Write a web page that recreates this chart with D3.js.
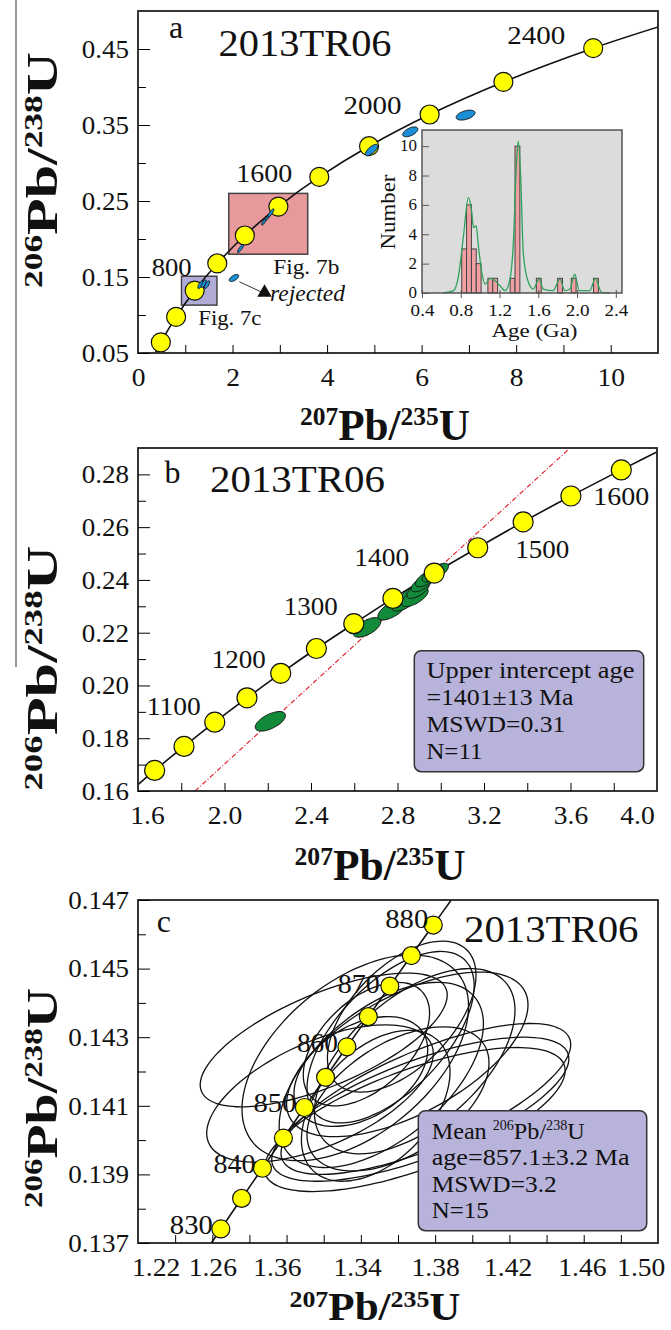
<!DOCTYPE html>
<html>
<head lang="en">
  <meta charset="UTF-8">
  <title>2013TR06 concordia diagrams</title>
  <script src="https://cdn.jsdelivr.net/npm/d3@7"></script>
</head>
<style>
  body { margin: 0; background: #fff; }
  svg text { font-family: "Liberation Serif", "Times New Roman", serif; fill: #111; }
</style>
<body>
<svg id="fig" width="671" height="1330"></svg>
<script>
  // ---------------- panel a : whole concordia ----------------
  var agesA = [400, 600, 800, 1000, 1200, 1400, 1600, 1800, 2000, 2200, 2400];
  var x75A = [0.483, 0.806, 1.199, 1.677, 2.260, 2.970, 3.835, 4.887, 6.169, 7.729, 9.629];
  var y68A = [0.0640, 0.0975, 0.1321, 0.1678, 0.2046, 0.2426, 0.2817, 0.3221, 0.3638, 0.4067, 0.4511];
  var labelAgesA = [800, 1600, 2000, 2400];
  var traceXA = [0.344].concat(x75A, [11.323]);
  var traceYA = [0.0476].concat(y68A, [0.4852]);

  var blueCx = [4.94, 5.76, 6.93, 2.03, 2.17, 2.67, 2.75, 2.81, 1.32, 1.39, 1.46];
  var blueCy = [0.317, 0.341, 0.363, 0.1487, 0.1875, 0.2232, 0.229, 0.2342, 0.1398, 0.1411, 0.1400];
  var blueEx = [0.13, 0.16, 0.20, 0.10, 0.065, 0.055, 0.055, 0.065, 0.055, 0.055, 0.055];
  var blueEy = [0.0075, 0.0065, 0.0065, 0.0047, 0.0055, 0.005, 0.0045, 0.0055, 0.005, 0.005, 0.005];
  var blueRho = [0.7, 0.55, 0.45, 0.6, 0.85, 0.85, 0.85, 0.85, 0.7, 0.7, 0.7];

  var zoomBoxB = { x0: 1.92, x1: 3.59, y0: 0.180, y1: 0.260 };
  var zoomBoxC = { x0: 0.92, x1: 1.67, y0: 0.113, y1: 0.151 };
  var rejectedArrow = [[2.143, 0.1438], [2.676, 0.1283]];

  // inset histogram (ages in Ga)
  var binStart = [0.81, 0.86, 0.91, 0.96, 1.08, 1.13, 1.31, 1.36, 1.58, 1.80, 1.94, 2.17];
  var binCount = [3, 6, 3, 2, 1, 1, 1, 10, 1, 1, 1, 1];
  var binWidth = 0.05;
  var kdeAge = [0.62, 0.725, 0.777, 0.828, 0.879, 0.914, 0.931, 0.959, 0.982, 1.017, 1.051, 1.103, 1.154,
                1.205, 1.257, 1.308, 1.343, 1.377, 1.394, 1.418, 1.445, 1.487, 1.548, 1.610, 1.651, 1.754,
                1.823, 1.874, 1.926, 1.977, 2.022, 2.131, 2.19, 2.252, 2.337];
  var kdeDensity = [0, 0.16, 1.17, 3.89, 6.49, 5.47, 4.45, 4.57, 3.21, 1.40, 0.61, 0.99, 0.83,
                    0.49, 0.16, 0.95, 3.43, 9.1, 10.34, 7.96, 2.76, 0.95, 0.27, 0.95, 0.27, 0.16,
                    0.95, 0.16, 0.27, 1.29, 0.16, 0.16, 0.99, 0.05, 0];

  // ---------------- panel b : 1000-1600 Ma ----------------
  var agesB = [1000, 1050, 1100, 1150, 1200, 1250, 1300, 1350, 1400, 1450, 1500, 1550, 1600];
  var x75B = [1.677, 1.813, 1.955, 2.104, 2.260, 2.425, 2.598, 2.779, 2.970, 3.171, 3.381, 3.602, 3.835];
  var y68B = [0.1678, 0.1769, 0.1861, 0.1953, 0.2046, 0.2140, 0.2234, 0.2330, 0.2426, 0.2522, 0.2620, 0.2718, 0.2817];
  var labelAgesB = [1100, 1200, 1300, 1400, 1500, 1600];
  var traceXB = [1.549].concat(x75B, [4.078]);
  var traceYB = [0.1588].concat(y68B, [0.2917]);
  var discordiaX = [1.864, 3.59];
  var discordiaY = [0.16, 0.2894];

  var greenCx = [2.212, 2.659, 2.775, 2.835, 2.864, 2.880, 2.895, 2.915, 2.935, 2.966, 2.984];
  var greenCy = [0.1864, 0.2220, 0.2287, 0.2318, 0.2344, 0.2335, 0.2362, 0.2387, 0.2406, 0.2424, 0.2431];
  var greenEx = [0.070, 0.064, 0.066, 0.062, 0.056, 0.062, 0.052, 0.052, 0.052, 0.052, 0.052];
  var greenEy = [0.0037, 0.0037, 0.0039, 0.0036, 0.0034, 0.0036, 0.0032, 0.0032, 0.0032, 0.0032, 0.0032];
  var greenRho = [0.6, 0.6, 0.65, 0.65, 0.65, 0.65, 0.65, 0.65, 0.65, 0.65, 0.65];
  var resultB = ['Upper intercept age', '=1401\u00b113 Ma', 'MSWD=0.31', 'N=11'];

  // ---------------- panel c : 830-880 Ma ----------------
  var agesC = [830, 835, 840, 845, 850, 855, 860, 865, 870, 875, 880];
  var x75C = [1.2646, 1.2758, 1.2870, 1.2983, 1.3096, 1.3210, 1.3325, 1.3440, 1.3556, 1.3672, 1.3790];
  var y68C = [0.13741, 0.13830, 0.13918, 0.14006, 0.14095, 0.14183, 0.14272, 0.14360, 0.14449, 0.14538, 0.14627];
  var labelAgesC = [830, 840, 850, 860, 870, 880];
  var traceXC = [1.2536].concat(x75C, [1.3908]);
  var traceYC = [0.13653].concat(y68C, [0.14716]);

  var spotCx = [1.320, 1.318, 1.375, 1.372, 1.369, 1.365, 1.337, 1.343, 1.340, 1.351, 1.360, 1.369, 1.356, 1.348, 1.362];
  var spotCy = [0.14292, 0.14136, 0.1412, 0.1409, 0.1406, 0.1425, 0.1424, 0.1428, 0.1420, 0.1419, 0.1412, 0.1423, 0.1430, 0.1410, 0.1436];
  var spotEx = [0.0665, 0.061, 0.078, 0.080, 0.081, 0.065, 0.061, 0.034, 0.036, 0.055, 0.049, 0.054, 0.045, 0.040, 0.040];
  var spotEy = [0.00195, 0.0020, 0.0022, 0.0021, 0.0021, 0.0024, 0.0030, 0.0018, 0.0016, 0.0027, 0.0021, 0.0027, 0.0025, 0.0022, 0.0022];
  var spotRho = [0.67, 0.58, 0.72, 0.70, 0.68, 0.60, 0.50, 0.50, 0.40, 0.55, 0.50, 0.55, 0.60, 0.45, 0.55];
  var tickLabelsC = ['1.22', '1.26', '1.36', '1.34', '1.38', '1.42', '1.46', '1.50'];
  var tickLabelAtC = [1.2295, 1.26, 1.2948, 1.338, 1.38, 1.419, 1.459, 1.4907];
  var resultC = ['age=857.1\u00b13.2 Ma', 'MSWD=3.2', 'N=15'];

  // ==========================================================
  var svg = d3.select('#fig');
  var YELLOW = '#ffff00';

  // stray rule at the very left of the scanned figure
  svg.append('line').attr('x1', 16).attr('x2', 16).attr('y1', 0).attr('y2', 667)
    .attr('stroke', '#333').attr('stroke-width', 1);

  function txt(g, x, y, s, o) {
    o = o || {};
    var t = g.append('text').attr('x', x).attr('y', y).text(s)
      .attr('font-size', o.size || 26)
      .attr('text-anchor', o.anchor || 'start');
    if (o.italic) t.attr('font-style', 'italic');
    if (o.bold) t.attr('font-weight', 'bold');
    if (o.len) t.attr('textLength', o.len).attr('lengthAdjust', 'spacingAndGlyphs');
    return t;
  }

  function widen(sel, k) {
    sel.each(function () {
      var w = this.getComputedTextLength();
      d3.select(this).attr('textLength', w * k).attr('lengthAdjust', 'spacingAndGlyphs');
    });
  }

  function isoTitle(g, x, y, a, b, c, d, o) {
    var t = g.append('text').attr('font-weight', 'bold').attr('text-anchor', 'middle')
      .attr('transform', 'translate(' + x + ',' + y + ')' + (o.rot ? ' rotate(-90)' : ''));
    t.append('tspan').attr('font-size', o.sup).attr('dy', -o.rise).text(a);
    t.append('tspan').attr('font-size', o.size).attr('dy', o.rise).text(b);
    t.append('tspan').attr('font-size', o.sup).attr('dy', -o.rise).text(c);
    t.append('tspan').attr('font-size', o.size).attr('dy', o.rise).text(d);
    if (o.len) t.attr('textLength', o.len).attr('lengthAdjust', 'spacingAndGlyphs');
  }

  function ellipsePath(cx, cy, ex, ey, rho, x, y) {
    var s = Math.sqrt(1 - rho * rho);
    var pts = d3.range(0, 360, 5).map(function (deg) {
      var t = deg * Math.PI / 180;
      return [x(cx + ex * Math.cos(t)), y(cy + ey * (rho * Math.cos(t) + s * Math.sin(t)))];
    });
    return d3.line().curve(d3.curveCardinalClosed.tension(0.3))(pts);
  }

  function panel(id, x, y) {
    var g = svg.append('g').attr('class', 'panel-' + id);
    g.append('clipPath').attr('id', 'clip-' + id).append('rect')
      .attr('x', x.range()[0]).attr('y', y.range()[1])
      .attr('width', x.range()[1] - x.range()[0]).attr('height', y.range()[0] - y.range()[1]);
    var inner = g.append('g').attr('clip-path', 'url(#clip-' + id + ')');
    return { g: g, inner: inner };
  }

  function frame(g, x, y) {
    g.append('rect').attr('x', x.range()[0]).attr('y', y.range()[1])
      .attr('width', x.range()[1] - x.range()[0]).attr('height', y.range()[0] - y.range()[1])
      .attr('fill', 'none').attr('stroke', '#222').attr('stroke-width', 1.8);
  }

  function axes(g, x, y, yMajor, yMinor, yFmt, xTicks, xLabels, xFmt) {
    var bottom = y.range()[0], left = x.range()[0];
    g.append('g').attr('transform', 'translate(' + left + ',0)')
      .call(d3.axisLeft(y).tickValues(yMinor).tickSize(-8).tickFormat(''))
      .call(function (a) { a.select('.domain').remove(); });
    var ya = g.append('g').attr('transform', 'translate(' + left + ',0)')
      .call(d3.axisLeft(y).tickValues(yMajor).tickSize(-12).tickPadding(9).tickFormat(yFmt));
    ya.select('.domain').remove();
    ya.selectAll('text').attr('font-size', 26).attr('fill', '#111');
    widen(ya.selectAll('text'), 1.04);
    g.append('g').attr('transform', 'translate(0,' + bottom + ')')
      .call(d3.axisBottom(x).tickValues(xTicks).tickSize(-8).tickFormat(''))
      .call(function (a) { a.select('.domain').remove(); });
    if (xLabels) {
      var xa = g.append('g').attr('transform', 'translate(0,' + bottom + ')')
        .call(d3.axisBottom(x).tickValues(xLabels).tickSize(0).tickPadding(15).tickFormat(xFmt));
      xa.select('.domain').remove();
      xa.selectAll('text').attr('font-size', 26).attr('fill', '#111');
      widen(xa.selectAll('text'), 1.06);
      return xa;
    }
  }

  function concordia(inner, x, y, tx, ty) {
    inner.append('path')
      .datum(d3.range(tx.length))
      .attr('fill', 'none').attr('stroke', '#111').attr('stroke-width', 1.6)
      .attr('d', d3.line().curve(d3.curveCatmullRom.alpha(0.5))
        .x(function (i) { return x(tx[i]); }).y(function (i) { return y(ty[i]); }));
  }

  function markers(g, x, y, xs, ys, r) {
    g.selectAll(null).data(d3.range(xs.length)).enter().append('circle')
      .attr('cx', function (i) { return x(xs[i]); })
      .attr('cy', function (i) { return y(ys[i]); })
      .attr('r', r)
      .attr('fill', YELLOW).attr('stroke', '#111').attr('stroke-width', 1.2);
  }

  function ellipses(g, x, y, cx, cy, ex, ey, rho, fill, sw) {
    g.selectAll(null).data(d3.range(cx.length)).enter().append('path')
      .attr('d', function (i) { return ellipsePath(cx[i], cy[i], ex[i], ey[i], rho[i], x, y); })
      .attr('fill', fill).attr('stroke', '#111').attr('stroke-width', sw);
  }

  function ageLabels(g, x, y, ages, xs, ys, labelAges, offs, size) {
    labelAges.forEach(function (a) {
      var i = ages.indexOf(a), o = offs[a];
      txt(g, x(xs[i]) + o[0], y(ys[i]) + o[1], String(a), { size: size, anchor: o[2], len: o[3] });
    });
  }

  // ======================= panel a =======================
  var xA = d3.scaleLinear().domain([0, 11]).range([138, 658]);
  var yA = d3.scaleLinear().domain([0.05, 0.5]).range([353, 11]);
  var pA = panel('a', xA, yA);

  pA.inner.append('rect')
    .attr('x', xA(zoomBoxB.x0)).attr('y', yA(zoomBoxB.y1))
    .attr('width', xA(zoomBoxB.x1) - xA(zoomBoxB.x0)).attr('height', yA(zoomBoxB.y0) - yA(zoomBoxB.y1))
    .attr('fill', '#e8999c').attr('stroke', '#444').attr('stroke-width', 1.5);
  pA.inner.append('rect')
    .attr('x', xA(zoomBoxC.x0)).attr('y', yA(zoomBoxC.y1))
    .attr('width', xA(zoomBoxC.x1) - xA(zoomBoxC.x0)).attr('height', yA(zoomBoxC.y0) - yA(zoomBoxC.y1))
    .attr('fill', '#b1acd6').attr('stroke', '#444').attr('stroke-width', 1.5);

  concordia(pA.inner, xA, yA, traceXA, traceYA);
  markers(pA.inner, xA, yA, x75A, y68A, 9.5);
  ellipses(pA.inner, xA, yA, blueCx, blueCy, blueEx, blueEy, blueRho, '#1b8fd6', 1);

  // rejected spot arrow
  pA.g.append('line')
    .attr('x1', xA(rejectedArrow[0][0])).attr('y1', yA(rejectedArrow[0][1]))
    .attr('x2', xA(rejectedArrow[1][0])).attr('y2', yA(rejectedArrow[1][1]))
    .attr('stroke', '#333').attr('stroke-width', 1);
  pA.g.append('path')
    .attr('transform', 'translate(' + xA(rejectedArrow[1][0]) + ',' + (yA(rejectedArrow[1][1]) - 1) + ')')
    .attr('d', d3.symbol().type(d3.symbolTriangle).size(90)())
    .attr('fill', '#111');

  frame(pA.g, xA, yA);
  axes(pA.g, xA, yA, [0.05, 0.15, 0.25, 0.35, 0.45], [0.10, 0.20, 0.30, 0.40], d3.format('.2f'),
       d3.range(1, 11), [0, 2, 4, 6, 8, 10], d3.format('d'));

  ageLabels(pA.g, xA, yA, agesA, x75A, y68A, labelAgesA,
    { 800: [-3, -15, 'end', 40], 1600: [-27, 5, 'end', 56], 2000: [-28, -1, 'end', 58], 2400: [-28, -4, 'end', 58] }, 26);

  txt(pA.g, 169, 38, 'a', { size: 32 });
  txt(pA.g, 218.6, 56, '2013TR06', { size: 37, len: 173 });
  txt(pA.g, 273.3, 274, 'Fig. 7b', { size: 21, len: 66 });
  txt(pA.g, 198.3, 325, 'Fig. 7c', { size: 21, len: 63 });
  txt(pA.g, 270, 301, 'rejected', { size: 23, italic: true, len: 75 });

  isoTitle(pA.g, 385, 440, '207', 'Pb/', '235', 'U', { size: 44, sup: 26, rise: 15, len: 170 });
  isoTitle(pA.g, 57, 170, '206', 'Pb/', '238', 'U', { size: 44, sup: 26, rise: 15, len: 236, rot: true });

  // ---- inset histogram ----
  var xI = d3.scaleLinear().domain([0.4, 2.464]).range([422, 622]);
  var yI = d3.scaleLinear().domain([0, 11.1]).range([293, 130]);
  var gI = svg.append('g').attr('class', 'inset');
  gI.append('rect').attr('x', 422).attr('y', 130).attr('width', 200).attr('height', 163)
    .attr('fill', '#dcdcdc');
  gI.selectAll(null).data(d3.range(binStart.length)).enter().append('rect')
    .attr('x', function (i) { return xI(binStart[i]); })
    .attr('y', function (i) { return yI(binCount[i]); })
    .attr('width', function (i) { return xI(binStart[i] + binWidth) - xI(binStart[i]); })
    .attr('height', function (i) { return yI(0) - yI(binCount[i]); })
    .attr('fill', '#f0a0a2').attr('stroke', '#444').attr('stroke-width', 1);
  gI.append('path').datum(d3.range(kdeAge.length))
    .attr('fill', 'none').attr('stroke', '#2ea25a').attr('stroke-width', 1.3)
    .attr('d', d3.line().curve(d3.curveMonotoneX)
      .x(function (i) { return xI(kdeAge[i]); }).y(function (i) { return yI(kdeDensity[i]); }));
  gI.append('rect').attr('x', 422).attr('y', 130).attr('width', 200).attr('height', 163)
    .attr('fill', 'none').attr('stroke', '#555').attr('stroke-width', 1.5);
  var iy = gI.append('g').attr('transform', 'translate(422,0)')
    .call(d3.axisLeft(yI).tickValues([0, 2, 4, 6, 8, 10]).tickSize(-7).tickPadding(5));
  iy.select('.domain').remove();
  iy.selectAll('line').attr('stroke', '#555');
  iy.selectAll('text').attr('font-size', 17).attr('fill', '#222').attr('dy', '0.28em');
  var ix = gI.append('g').attr('transform', 'translate(0,293)')
    .call(d3.axisBottom(xI).tickValues([0.4, 0.8, 1.2, 1.6, 2.0, 2.4]).tickSize(5).tickPadding(6)
      .tickFormat(d3.format('.1f')));
  ix.select('.domain').remove();
  ix.selectAll('line').attr('stroke', '#555').attr('y1', -3);
  ix.selectAll('text').attr('font-size', 17).attr('fill', '#222');
  widen(ix.selectAll('text'), 1.12);
  txt(gI, 534.5, 337, 'Age (Ga)', { size: 19, anchor: 'middle', len: 86 })
    .attr('fill', '#222');
  txt(gI, 0, 0, 'Number', { size: 20, anchor: 'middle', len: 75 })
    .attr('transform', 'translate(395,212) rotate(-90)').attr('fill', '#222');

  // ======================= panel b =======================
  var xB = d3.scaleLinear().domain([1.6, 4.0]).range([138, 657]);
  var yB = d3.scaleLinear().domain([0.16, 0.29]).range([791, 448]);
  var pB = panel('b', xB, yB);

  pB.inner.append('line')
    .attr('x1', xB(discordiaX[0])).attr('y1', yB(discordiaY[0]))
    .attr('x2', xB(discordiaX[1])).attr('y2', yB(discordiaY[1]))
    .attr('stroke', '#e0202a').attr('stroke-width', 1.1).attr('stroke-dasharray', '5,2,1,2');
  concordia(pB.inner, xB, yB, traceXB, traceYB);
  ellipses(pB.inner, xB, yB, greenCx, greenCy, greenEx, greenEy, greenRho, '#118a3a', 1);
  markers(pB.inner, xB, yB, x75B, y68B, 10);

  frame(pB.g, xB, yB);
  var xaB = axes(pB.g, xB, yB, d3.range(0.16, 0.2801, 0.02), d3.range(0.17, 0.2801, 0.02), d3.format('.2f'),
       d3.range(1.8, 3.99, 0.2), [1.6, 2.0, 2.4, 2.8, 3.2, 3.6, 4.0], d3.format('.1f'));
  xaB.selectAll('text').attr('dx', function (d) { return d === 1.6 ? 9 : (d === 4.0 ? -20 : 0); });

  ageLabels(pB.g, xB, yB, agesB, x75B, y68B, labelAgesB,
    { 1100: [-14, -7, 'end', 54], 1200: [-15, -5, 'end', 54], 1300: [-16, -9, 'end', 54],
      1400: [-25, -7, 'end', 55], 1500: [-8, 36, 'start', 54], 1600: [-28, 35, 'start', 56] }, 26);

  txt(pB.g, 164.5, 483, 'b', { size: 32 });
  txt(pB.g, 210, 491.7, '2013TR06', { size: 37, len: 175 });

  var boxB = pB.g.append('g');
  boxB.append('rect').attr('x', 414.3).attr('y', 650.7).attr('width', 229.4).attr('height', 121)
    .attr('rx', 7).attr('fill', '#b8b3da').attr('stroke', '#333').attr('stroke-width', 1.5);
  var lenB = [208, 147, 139, 56];
  resultB.forEach(function (s, i) {
    txt(boxB, 426.4, 678 + i * 27, s, { size: 24, len: lenB[i] }).attr('fill', '#222');
  });

  isoTitle(pB.g, 380, 880, '207', 'Pb/', '235', 'U', { size: 44, sup: 26, rise: 15, len: 171 });
  isoTitle(pB.g, 57, 668, '206', 'Pb/', '238', 'U', { size: 44, sup: 26, rise: 15, len: 245, rot: true });

  // ======================= panel c =======================
  var xC = d3.scaleLinear().domain([1.22, 1.50]).range([138, 658]);
  var yC = d3.scaleLinear().domain([0.137, 0.147]).range([1243, 900]);
  var pC = panel('c', xC, yC);

  concordia(pC.inner, xC, yC, traceXC, traceYC);
  ellipses(pC.inner, xC, yC, spotCx, spotCy, spotEx, spotEy, spotRho, 'none', 1.3);
  markers(pC.inner, xC, yC, x75C, y68C, 9);

  frame(pC.g, xC, yC);
  axes(pC.g, xC, yC, d3.range(0.137, 0.14701, 0.002), d3.range(0.138, 0.1465, 0.002), d3.format('.3f'),
       d3.range(1.24, 1.4999, 0.02), null, null);
  var xaC = pC.g.append('g').attr('transform', 'translate(0,1243)')
    .call(d3.axisBottom(xC).tickValues(tickLabelAtC).tickSize(0).tickPadding(15)
      .tickFormat(function (d, i) { return tickLabelsC[i]; }));
  xaC.select('.domain').remove();
  xaC.selectAll('text').attr('font-size', 26).attr('fill', '#111');
  widen(xaC.selectAll('text'), 1.06);

  ageLabels(pC.g, xC, yC, agesC, x75C, y68C, labelAgesC,
    { 830: [-8, 5, 'end', 43], 840: [-7, 5, 'end', 42], 850: [-8, 4, 'end', 43],
      860: [-9, 5, 'end', 41], 870: [-10, 7, 'end', 42], 880: [-5, 3, 'end', 43] }, 27);

  txt(pC.g, 156.7, 932, 'c', { size: 32 });
  txt(pC.g, 464, 941.7, '2013TR06', { size: 37, len: 174.5 });

  var boxC = pC.g.append('g');
  boxC.append('rect').attr('x', 418.3).attr('y', 1110.7).attr('width', 228.4).attr('height', 120)
    .attr('rx', 7).attr('fill', '#b8b3da').attr('stroke', '#333').attr('stroke-width', 1.5);
  var meanLine = boxC.append('text').attr('x', 431.7).attr('y', 1139.3).attr('font-size', 24).attr('fill', '#222');
  meanLine.append('tspan').text('Mean ');
  meanLine.append('tspan').attr('font-size', 14).attr('dy', -9).text('206');
  meanLine.append('tspan').attr('dy', 9).text('Pb/');
  meanLine.append('tspan').attr('font-size', 14).attr('dy', -9).text('238');
  meanLine.append('tspan').attr('dy', 9).text('U');
  meanLine.attr('textLength', 153).attr('lengthAdjust', 'spacingAndGlyphs');
  var lenC = [198, 125, 57];
  resultC.forEach(function (s, i) {
    txt(boxC, 431.7, 1165 + i * 26.6, s, { size: 24, len: lenC[i] }).attr('fill', '#222');
  });

  isoTitle(pC.g, 375, 1320, '207', 'Pb/', '235', 'U', { size: 40, sup: 24, rise: 13, len: 171 });
  isoTitle(pC.g, 57, 1098, '206', 'Pb/', '238', 'U', { size: 44, sup: 26, rise: 15, len: 220, rot: true });
</script>
</body>
</html>
